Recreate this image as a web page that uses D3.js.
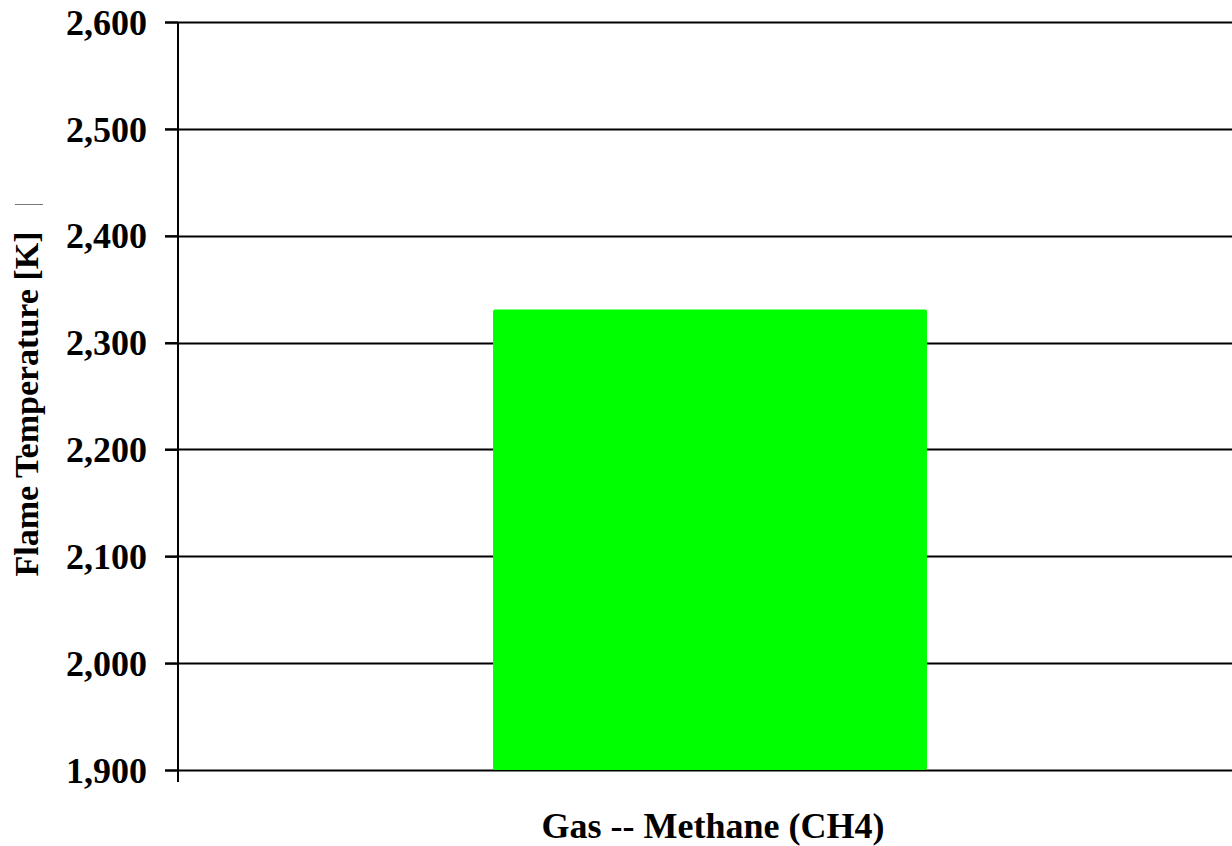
<!DOCTYPE html>
<html>
<head>
<meta charset="utf-8">
<script src="https://cdn.jsdelivr.net/npm/d3@7"></script>
<style>
  html, body { margin: 0; padding: 0; background: #fff; }
  svg { display: block; }
  text { font-family: "Liberation Serif", "Times New Roman", serif; font-weight: bold; fill: #000; }
</style>
</head>
<body>
<svg id="chart" width="1232" height="846"></svg>
<script>
// Chart data
const categories = ["Gas -- Methane (CH4)"];
const flameTemps = [2331];
const yTicks = [1900, 2000, 2100, 2200, 2300, 2400, 2500, 2600];
const yTitle = "Flame Temperature [K]";

const W = 1232, H = 846;
const margin = { top: 22, bottom: 76, left: 178 };
const plotRight = 1242; // plot area runs slightly past the page edge
const svg = d3.select("#chart");

const y = d3.scaleLinear().domain([1900, 2600]).range([H - margin.bottom, margin.top]);
const x = d3.scaleBand().domain(categories).range([margin.left, plotRight]).paddingInner(0).paddingOuter(0.726);

const fmt = d3.format(",");

// Gridlines
svg.append("g")
  .selectAll("line")
  .data(yTicks)
  .join("line")
  .attr("x1", margin.left - 13)
  .attr("x2", W)
  .attr("y1", d => Math.round(y(d)) + 0.5)
  .attr("y2", d => Math.round(y(d)) + 0.5)
  .attr("stroke", "#000")
  .attr("stroke-width", 2);

// Bars
svg.append("g")
  .selectAll("rect")
  .data(categories)
  .join("rect")
  .attr("x", d => x(d))
  .attr("width", x.bandwidth())
  .attr("y", (d, i) => y(flameTemps[i]))
  .attr("height", (d, i) => y(1900) - y(flameTemps[i]))
  .attr("rx", 2)
  .attr("fill", "#00ff00");

// Left axis
const yAxis = d3.axisLeft(y).tickValues(yTicks).tickFormat(fmt).tickSize(13).tickPadding(18);
const gy = svg.append("g").attr("transform", `translate(${margin.left},0)`).call(yAxis);
gy.select(".domain").attr("stroke", "#000").attr("stroke-width", 2)
  .attr("d", `M0,${y(2600)}V${y(1900) + 12}`);
gy.selectAll(".tick line").attr("stroke", "#000").attr("stroke-width", 2);
gy.selectAll(".tick text").style("font-size", "36px").attr("font-family", null).attr("fill", "#000").attr("dy", "0.34em");

// Category label
svg.append("g")
  .selectAll("text")
  .data(categories)
  .join("text")
  .attr("x", d => x(d) + x.bandwidth() / 2 + 3)
  .attr("y", 838)
  .attr("text-anchor", "middle")
  .style("font-size", "36px")
  .text(d => d);

// Y axis title
const titleX = 38, titleY = 404;
svg.append("text")
  .attr("transform", `translate(${titleX},${titleY}) rotate(-90)`)
  .attr("text-anchor", "middle")
  .style("font-size", "34px")
  .text(yTitle);

// Small separator mark after the title
svg.append("line")
  .attr("x1", 15).attr("x2", 43)
  .attr("y1", 204.5).attr("y2", 204.5)
  .attr("stroke", "#777").attr("stroke-width", 1);
</script>
</body>
</html>
